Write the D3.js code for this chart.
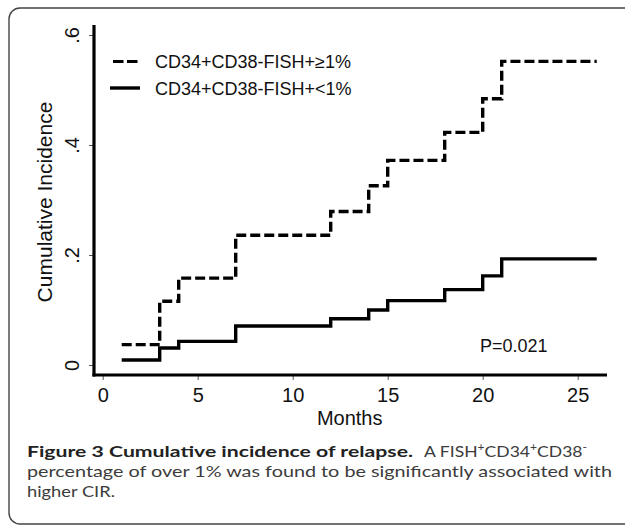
<!DOCTYPE html>
<html>
<head>
<meta charset="utf-8">
<script src="https://cdn.jsdelivr.net/npm/d3@7"></script>
<style>
  body { margin: 0; background: #fff; }
  svg { display: block; }
</style>
</head>
<body>
<svg id="chart" width="625" height="526"></svg>
<script>
// ---- data ----
const months = [1, 3, 4, 7, 12, 14, 15, 18, 20, 21, 26];
const seriesNames = ["CD34+CD38-FISH+\u22651%", "CD34+CD38-FISH+<1%"];
const highValues = [0.037, 0.116, 0.158, 0.236, 0.279, 0.326, 0.372, 0.423, 0.484, 0.552, 0.552];
const lowValues  = [0.009, 0.031, 0.043, 0.071, 0.084, 0.100, 0.117, 0.137, 0.162, 0.193, 0.193];
const xTicks = [0, 5, 10, 15, 20, 25];
const yTicks = [0, 0.2, 0.4, 0.6];
const yTickLabels = ["0", ".2", ".4", ".6"];
const pValueText = "P=0.021";
const xTitle = "Months";
const yTitle = "Cumulative Incidence";

const svg = d3.select("#chart");

// frame
svg.append("rect")
  .attr("x", 9).attr("y", 8).attr("width", 640).attr("height", 516)
  .attr("rx", 11).attr("ry", 11)
  .attr("fill", "none").attr("stroke", "#444").attr("stroke-width", 1.4);

const x = d3.scaleLinear().domain([0, 25]).range([102.7, 577.7]);
const y = d3.scaleLinear().domain([0, 0.6]).range([365, 35]);

const font = "Liberation Sans, Arial, sans-serif";

// axes (ticks via d3 axes)
const xAxis = d3.axisBottom(x).tickValues(xTicks).tickSize(5).tickPadding(8).tickFormat(d3.format("d"));
const gx = svg.append("g").attr("transform", "translate(0,375)").call(xAxis);
gx.select(".domain").remove();
gx.selectAll(".tick line").attr("stroke", "#555").attr("stroke-width", 1);
gx.selectAll(".tick text").attr("font-family", font).attr("font-size", 20).attr("fill", "#111").attr("dy", "0.72em");

const yAxis = d3.axisLeft(y).tickValues(yTicks).tickSize(5).tickFormat((d, i) => yTickLabels[i]);
const gy = svg.append("g").attr("transform", "translate(94,0)").call(yAxis);
gy.select(".domain").remove();
gy.selectAll(".tick line").attr("stroke", "#555").attr("stroke-width", 1);
gy.selectAll(".tick text").remove();
gy.selectAll(".tick").append("text")
  .attr("transform", "translate(-15,0) rotate(-90)")
  .attr("text-anchor", "middle")
  .attr("font-family", font).attr("font-size", 20).attr("fill", "#111")
  .text((d, i) => yTickLabels[i]);

// thick axis lines
svg.append("line").attr("x1", 94).attr("x2", 94).attr("y1", 25).attr("y2", 376.5)
  .attr("stroke", "#000").attr("stroke-width", 3.2);
svg.append("line").attr("x1", 92.5).attr("x2", 607).attr("y1", 375).attr("y2", 375)
  .attr("stroke", "#000").attr("stroke-width", 3.2);

// titles
svg.append("text").attr("x", x(13)).attr("y", 425).attr("text-anchor", "middle")
  .attr("font-family", font).attr("font-size", 20).attr("fill", "#111").text(xTitle);
svg.append("text").attr("transform", "translate(52,202) rotate(-90)").attr("text-anchor", "middle")
  .attr("font-family", font).attr("font-size", 21).attr("fill", "#111").text(yTitle);

// step curves
const line = d3.line().x(d => x(d[0])).y(d => y(d[1])).curve(d3.curveStepAfter);
svg.append("path").datum(months.map((m, i) => [m, lowValues[i]]))
  .attr("d", line).attr("fill", "none").attr("stroke", "#000").attr("stroke-width", 3.4);
svg.append("path").datum(months.map((m, i) => [m, highValues[i]]))
  .attr("d", line).attr("fill", "none").attr("stroke", "#000").attr("stroke-width", 3.4)
  .attr("stroke-dasharray", "10,4");

// legend
const legend = svg.append("g");
legend.append("line").attr("x1", 113).attr("x2", 138).attr("y1", 61.5).attr("y2", 61.5)
  .attr("stroke", "#000").attr("stroke-width", 3.2).attr("stroke-dasharray", "10.5,3.5");
legend.append("line").attr("x1", 110).attr("x2", 140).attr("y1", 88).attr("y2", 88)
  .attr("stroke", "#000").attr("stroke-width", 3.4);
legend.selectAll("text.lg").data(seriesNames).enter().append("text")
  .attr("class", "lg")
  .attr("x", 155).attr("y", (d, i) => i === 0 ? 68 : 95)
  .attr("font-family", font).attr("font-size", 18).attr("fill", "#111")
  .text(d => d);

// p-value
svg.append("text").attr("x", 480).attr("y", 351.5)
  .attr("font-family", font).attr("font-size", 18).attr("fill", "#111").text(pValueText);

// caption
const capFont = "Lato, 'Open Sans', sans-serif";
const cap = svg.append("g").attr("font-family", capFont).attr("font-size", 16);
cap.append("text").attr("x", 27).attr("y", 457).attr("fill", "#222").attr("font-weight", "bold")
  .attr("textLength", 386).attr("lengthAdjust", "spacingAndGlyphs")
  .text("Figure 3 Cumulative incidence of relapse.");
const l1 = cap.append("text").attr("x", 424).attr("y", 457).attr("fill", "#3c3c3c")
  .attr("textLength", 163).attr("lengthAdjust", "spacingAndGlyphs");
l1.append("tspan").text("A FISH");
l1.append("tspan").attr("font-size", 11).attr("dy", -6).text("+");
l1.append("tspan").attr("dy", 6).text("CD34");
l1.append("tspan").attr("font-size", 11).attr("dy", -6).text("+");
l1.append("tspan").attr("dy", 6).text("CD38");
l1.append("tspan").attr("font-size", 11).attr("dy", -6).text("-");
cap.append("text").attr("x", 27).attr("y", 477).attr("fill", "#3c3c3c")
  .attr("textLength", 585).attr("lengthAdjust", "spacingAndGlyphs")
  .text("percentage of over 1% was found to be significantly associated with");
cap.append("text").attr("x", 27).attr("y", 497).attr("fill", "#3c3c3c")
  .attr("textLength", 88).attr("lengthAdjust", "spacingAndGlyphs")
  .text("higher CIR.");
</script>
</body>
</html>
